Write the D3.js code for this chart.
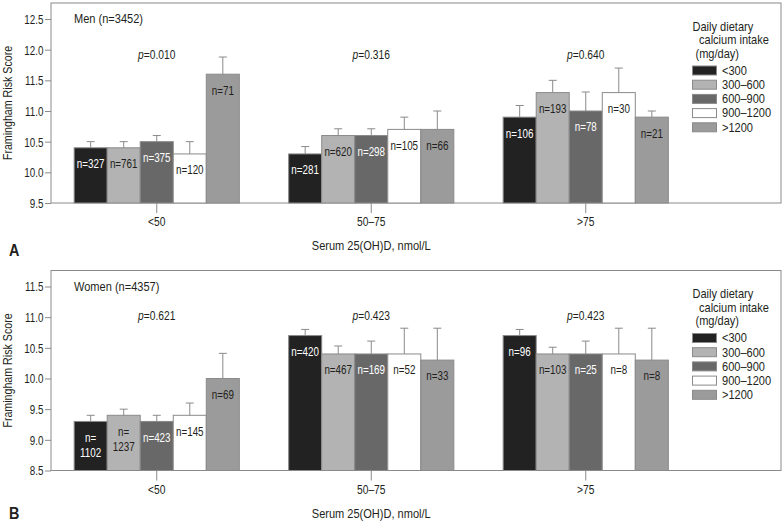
<!DOCTYPE html>
<html><head><meta charset="utf-8">
<script src="https://cdn.jsdelivr.net/npm/d3@7"></script>
<style>
body{margin:0;background:#fff}
text{font-family:"Liberation Sans",Arial,sans-serif;fill:#231f20}
</style>
</head><body><svg id="c" width="784" height="522"></svg>
<script>
const groups = ["<50", "50–75", ">75"];
const series = ["<300", "300–600", "600–900", "900–1200", ">1200"];
const colors = ["#222222", "#b3b3b3", "#686868", "#ffffff", "#9b9b9b"];
const textColors = ["#ffffff", "#231f20", "#ffffff", "#231f20", "#231f20"];

const menMeans = [[10.4, 10.4, 10.5, 10.3, 11.6], [10.3, 10.6, 10.6, 10.7, 10.7], [10.9, 11.3, 11.0, 11.3, 10.9]];
const menUpper = [[10.5, 10.5, 10.6, 10.5, 11.88], [10.42, 10.71, 10.71, 10.9, 11.0], [11.09, 11.5, 11.31, 11.7, 11.0]];
const menN = [["327", "761", "375", "120", "71"], ["281", "620", "298", "105", "66"], ["106", "193", "78", "30", "21"]];
const menP = ["0.010", "0.316", "0.640"];
const menTicks = [9.5, 10.0, 10.5, 11.0, 11.5, 12.0, 12.5];

const womenMeans = [[9.3, 9.4, 9.3, 9.4, 10.0], [10.7, 10.4, 10.4, 10.4, 10.3], [10.7, 10.4, 10.4, 10.4, 10.3]];
const womenUpper = [[9.4, 9.5, 9.4, 9.6, 10.41], [10.8, 10.53, 10.61, 10.82, 10.82], [10.8, 10.51, 10.61, 10.82, 10.82]];
const womenN = [["1102", "1237", "423", "145", "69"], ["420", "467", "169", "52", "33"], ["96", "103", "25", "8", "8"]];
const womenP = ["0.621", "0.423", "0.423"];
const womenTicks = [8.5, 9.0, 9.5, 10.0, 10.5, 11.0, 11.5];

const svg = d3.select("#c");
const gray = "#8a8a8a";
const SX = 0.82;

const x0 = d3.scaleBand().domain(groups).range([49.5, 693]).paddingInner(0.23).paddingOuter(0.115);
const x1 = d3.scaleBand().domain(series).range([0, x0.bandwidth()]);

function addText(parent, x, y, str, size, anchor, sx) {
  const t = parent.append("text")
    .attr("transform", `translate(${x},${y}) scale(${sx || SX},1)`)
    .attr("text-anchor", anchor || "start")
    .attr("dominant-baseline", "central")
    .style("font-size", size + "px");
  if (str !== null) t.text(str);
  return t;
}

function panel(cfg) {
  const axisY = cfg.axisY;
  const y = d3.scaleLinear().domain([cfg.ticks[0], cfg.ticks[cfg.ticks.length - 1]]).range([axisY, axisY - 184]);
  const g = svg.append("g");
  g.append("rect").attr("x", 51).attr("y", axisY - 200).attr("width", 730).attr("height", 200)
    .attr("fill", "none").attr("stroke", gray).attr("stroke-width", 1);

  const ya = g.append("g").attr("transform", "translate(51,0)")
    .call(d3.axisLeft(y).tickValues(cfg.ticks).tickFormat(d3.format(".1f")).tickSize(6).tickPadding(2));
  ya.select(".domain").remove();
  ya.selectAll(".tick line").attr("stroke", gray);
  ya.selectAll(".tick text").attr("x", null).attr("dy", null)
    .attr("dominant-baseline", "central")
    .attr("transform", `translate(-7.5,0) scale(${SX},1)`)
    .style("font-size", "12px").attr("fill", "#231f20").style("font-family", "Liberation Sans");

  const xa = g.append("g").attr("transform", `translate(0,${axisY})`)
    .call(d3.axisBottom(x0).tickSizeInner(10).tickSizeOuter(0).tickPadding(4));
  xa.select(".domain").remove();
  xa.selectAll(".tick line").attr("stroke", gray);
  xa.selectAll(".tick text").attr("y", null).attr("dy", null)
    .attr("dominant-baseline", "central")
    .attr("transform", `translate(0,19) scale(${SX},1)`)
    .style("font-size", "12.5px").attr("fill", "#231f20").style("font-family", "Liberation Sans");

  groups.forEach((grp, gi) => {
    const gg = g.append("g").attr("transform", `translate(${x0(grp)},0)`);
    series.forEach((s, si) => {
      const v = cfg.means[gi][si];
      const bx = x1(s), bw = x1.bandwidth();
      gg.append("rect").attr("x", bx).attr("y", y(v)).attr("width", bw).attr("height", axisY - y(v))
        .attr("fill", colors[si]).attr("stroke", gray).attr("stroke-width", 1);
      const cx = bx + bw / 2;
      const up = cfg.upper[gi][si];
      gg.append("line").attr("x1", cx).attr("x2", cx).attr("y1", y(v)).attr("y2", y(up)).attr("stroke", gray);
      gg.append("line").attr("x1", cx - 4).attr("x2", cx + 4).attr("y1", y(up)).attr("y2", y(up)).attr("stroke", gray);
      const n = cfg.n[gi][si];
      const t = addText(gg, cx, y(v) + 16, null, 12, "middle").style("fill", textColors[si]);
      if (n.length >= 4) {
        t.append("tspan").attr("x", 0).attr("dy", 0).text("n=");
        t.append("tspan").attr("x", 0).attr("dy", 15).text(n);
      } else {
        t.text("n=" + n);
      }
    });
    const pt = addText(g, x0(grp) + x0.bandwidth() / 2, axisY - cfg.pOff, null, 12.5, "middle");
    pt.append("tspan").style("font-style", "italic").text("p");
    pt.append("tspan").text("=" + cfg.p[gi]);
  });

  addText(g, 74, axisY - 184, cfg.title, 13, "start", 0.85);

  g.append("text").attr("transform", `translate(8,${axisY - 100}) rotate(-90) scale(${SX},1)`).attr("text-anchor", "middle")
    .attr("dominant-baseline", "central").style("font-size", "13px").text("Framingham Risk Score");

  addText(g, x0(groups[1]) + x0.bandwidth() / 2, axisY + 43, "Serum 25(OH)D, nmol/L", 13, "middle", 0.85);

  addText(g, 9, cfg.letterY, cfg.letter, 16, "start", 0.9).style("font-weight", "bold");

  const lt = ["Daily dietary", "calcium intake", "(mg/day)"];
  const lx = [692.5, 699, 695.5];
  lt.forEach((s, i) => {
    addText(g, lx[i], axisY - 176.5 + i * 13.5, s, 13, "start", 0.85);
  });
  series.forEach((s, i) => {
    const cy = axisY - 132.5 + i * 14.2;
    g.append("rect").attr("x", 692.5).attr("y", cy - 4.5).attr("width", 24).attr("height", 9)
      .attr("fill", colors[i]).attr("stroke", gray).attr("stroke-width", 1);
    addText(g, 722, cy, s, 13, "start", 0.85);
  });
}

panel({axisY: 203, ticks: menTicks, means: menMeans, upper: menUpper, n: menN, p: menP, pOff: 148,
  title: "Men (n=3452)", letter: "A", letterY: 250});
panel({axisY: 470.5, ticks: womenTicks, means: womenMeans, upper: womenUpper, n: womenN, p: womenP, pOff: 155,
  title: "Women (n=4357)", letter: "B", letterY: 513});
</script>
</body></html>
